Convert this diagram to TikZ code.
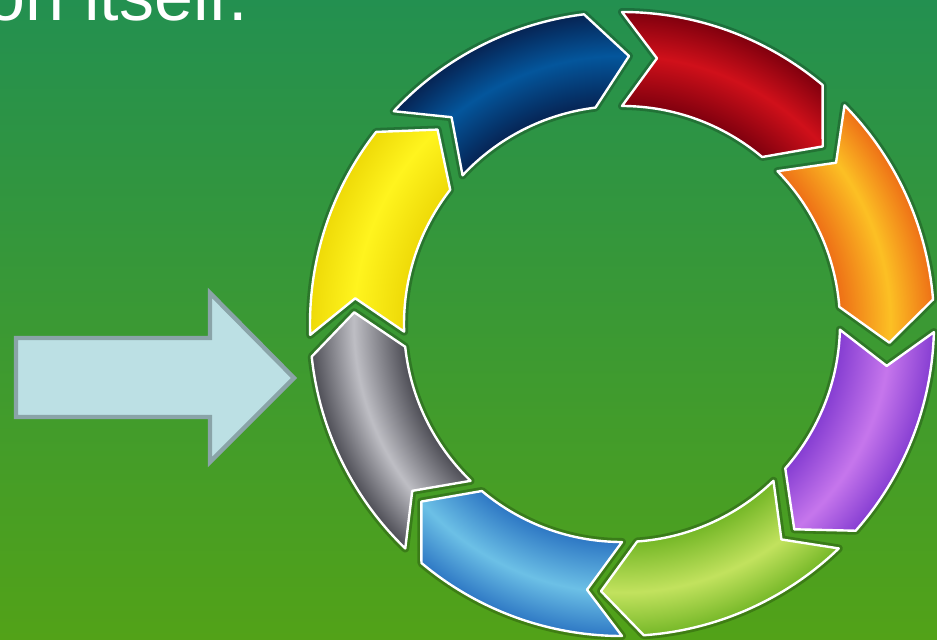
\documentclass[tikz,border=0pt]{standalone}
\usepackage{fontspec}
\setmainfont{Liberation Sans}
\usepackage{tikz}

\definecolor{bgtop}{RGB}{35,144,80}
\definecolor{bgbot}{RGB}{82,162,24}
\definecolor{arrowfill}{RGB}{188,224,228}
\definecolor{arrowline}{RGB}{138,164,168}

\definecolor{segGrayLo}{RGB}{78,78,86}
\definecolor{segGrayHi}{RGB}{190,190,196}
\definecolor{segYellowLo}{RGB}{238,218,8}
\definecolor{segYellowHi}{RGB}{255,244,30}
\definecolor{segBlueLo}{RGB}{6,36,84}
\definecolor{segBlueHi}{RGB}{4,86,156}
\definecolor{segRedLo}{RGB}{128,0,14}
\definecolor{segRedHi}{RGB}{208,16,26}
\definecolor{segOrangeLo}{RGB}{238,112,22}
\definecolor{segOrangeHi}{RGB}{252,192,36}
\definecolor{segPurpleLo}{RGB}{134,62,210}
\definecolor{segPurpleHi}{RGB}{198,118,236}
\definecolor{segGreenLo}{RGB}{118,184,40}
\definecolor{segGreenHi}{RGB}{194,226,94}
\definecolor{segLightLo}{RGB}{46,120,196}
\definecolor{segLightHi}{RGB}{108,192,230}

\pgfdeclareradialshading[ringlo,ringhi]{ringshade}{\pgfpoint{0bp}{0bp}}{%
  color(0bp)=(ringlo); color(17.5bp)=(ringlo); color(21.5bp)=(ringhi); color(25bp)=(ringlo); color(50bp)=(ringlo)}

% one ring arrow, tail at angle #1
\newcommand{\ringpath}[1]{(#1:312) arc[start angle=#1, end angle=#1-40, radius=312]
  -- (#1-48.5:268) -- (#1-40:218) arc[start angle=#1-40, end angle=#1, radius=218]
  -- (#1-7.5:268) -- cycle}

\begin{document}
\begin{tikzpicture}[x=0.5pt,y=0.5pt]
    
    % ================= BACKGROUND =================
    \useasboundingbox (0,0) rectangle (937,639);
    \clip (0,0) rectangle (937,639);
    \shade[top color=bgtop, bottom color=bgbot] (0,0) rectangle (937,639);
    
    \node[anchor=base east, inner sep=0pt, text=white, font=\fontsize{35}{42}\selectfont] (title) at (248,618) {on itself.};
    
    % ================= INPUT ARROW =================
    \draw[line width=2.2pt, draw=arrowline, fill=arrowfill, line join=miter]
        (16,222) -- (16,301) -- (210,301) -- (210,346) -- (294,261) -- (210,177) -- (210,222) -- cycle;
    
    % ================= RING =================
    \begin{scope}[shift={(622,315)}]
    
    % shadow round the arrows
    \foreach \t in {226,182,137,90,44.5,-1.5,-46,-90}
        \draw[black, draw opacity=0.22, line width=4pt, line join=round] \ringpath{\t};
    
    \foreach \t/\seg in {226/segGray, 182/segYellow, 137/segBlue, 90/segRed,
                         44.5/segOrange, -1.5/segPurple, -46/segGreen, -90/segLight}
    {
        \colorlet{ringlo}{\seg Lo}
        \colorlet{ringhi}{\seg Hi}
        \begin{scope}
            \clip \ringpath{\t};
            \shade[shading=ringshade] (0,0) circle (312);
        \end{scope}
        \draw[white, line width=1.2pt, line join=round] \ringpath{\t};
    }
    
    \end{scope}
    \end{tikzpicture}
\end{document}
